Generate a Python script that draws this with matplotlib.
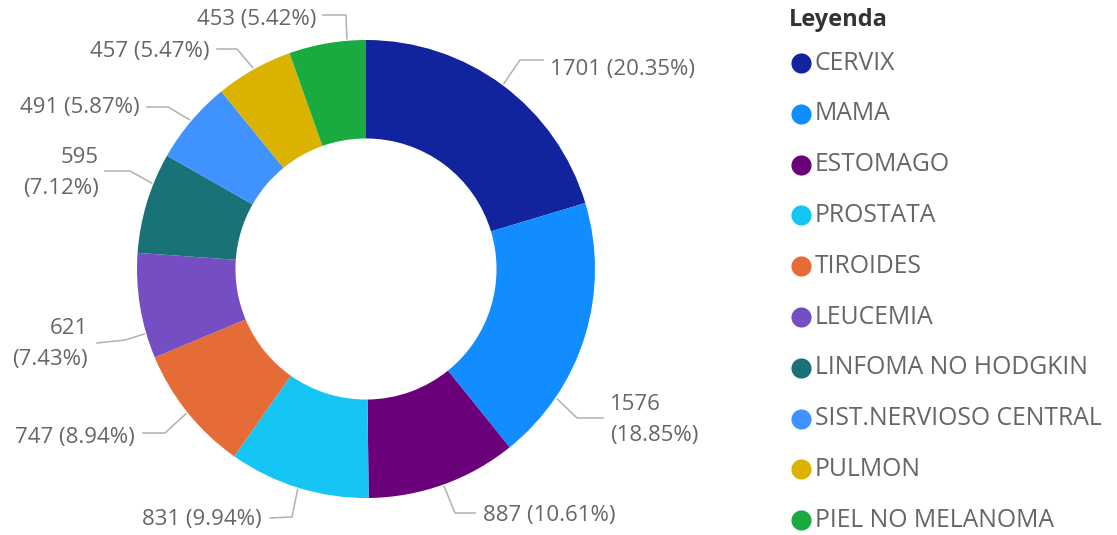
import numpy as np
import matplotlib.pyplot as plt

# datos
categorias = ["CERVIX", "MAMA", "ESTOMAGO", "PROSTATA", "TIROIDES", "LEUCEMIA",
              "LINFOMA NO HODGKIN", "SIST.NERVIOSO CENTRAL", "PULMON", "PIEL NO MELANOMA"]
casos = [1701, 1576, 887, 831, 747, 621, 595, 491, 457, 453]
colores = ["#12239E", "#118DFF", "#6B007B", "#15C6F4", "#E66C37", "#744EC2",
           "#197278", "#4092FF", "#D9B300", "#1AAB40"]

W, H = 1117, 535
CX, CY, R = 366, 269, 229

# layout of the data labels (pixel coords, y down): elbow, line end, text, align, angle shift
codo = [(520, 60), (577, 418), (455, 513), (292, 517), (165, 433),
        (125, 340), (130, 171), (168, 107), (237, 49), (346, 15)]
fin = [(543, 60), (603, 418), (475, 513), (270, 518), (143, 433),
       (97, 343), (105, 171), (147, 107), (217, 49), (323, 15)]
txt = [(550, 70), (610, 420), (483, 516), (262, 520), (135, 437),
       (88, 344), (99, 173), (140, 107), (209, 52), (316, 20)]
alin = ["left", "left", "left", "right", "right", "right", "right", "right", "right", "right"]
dos_lineas = [False, True, False, False, False, True, True, False, False, False]
desvio = [0, 17, 0, 0, 0, -7, 5, 0, 0, 5]

plt.rcParams['font.family'] = ['Open Sans', 'DejaVu Sans']

fig = plt.figure(figsize=(W / 100, H / 100), dpi=100)
ax = fig.add_axes([0, 0, 1, 1])

ax.pie(casos, colors=colores, center=(CX, H - CY), radius=R, startangle=90,
       counterclock=False, wedgeprops=dict(width=R * 0.43, linewidth=0),
       frame=True)
ax.set_xlim(0, W)
ax.set_ylim(0, H)
ax.set_aspect('equal')
ax.axis('off')

total = sum(casos)
acum = np.cumsum([0] + casos)
gris = "#666666"
for i, v in enumerate(casos):
    medio = (acum[i] + acum[i + 1]) / 2 / total * 360 + desvio[i]
    a = np.radians(medio)
    x0 = CX + (R + 2) * np.sin(a)
    y0 = CY - (R + 2) * np.cos(a)
    xs = [x0, codo[i][0], fin[i][0]]
    ys = [H - y0, H - codo[i][1], H - fin[i][1]]
    ax.plot(xs, ys, color="#B3B0AD", lw=1.1)
    pct = v / total * 100
    sep = "\n" if dos_lineas[i] else " "
    ax.text(txt[i][0], H - txt[i][1], f"{v}{sep}({pct:.2f}%)", ha=alin[i],
            va="center", fontsize=16, color=gris, linespacing=1.6,
            multialignment=alin[i])

# leyenda
ax.text(789, H - 20, "Leyenda", fontsize=17, fontweight="bold", color="#333333",
        va="center", ha="left")
for i, (c, col) in enumerate(zip(categorias, colores)):
    y = 63 + i * 50.8
    ax.plot(801, H - y, "o", ms=14.5, color=col, mec="none")
    ax.text(815, H - y, c, fontsize=17.8, color=gris, va="center", ha="left")

plt.savefig("out.png", dpi=100)
